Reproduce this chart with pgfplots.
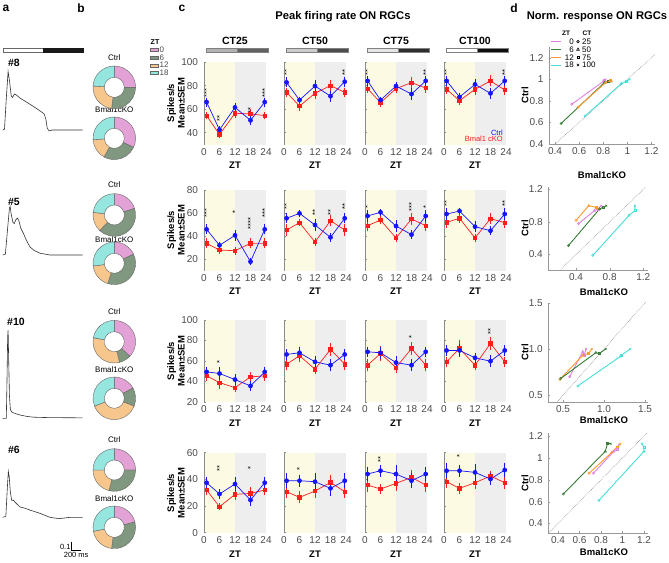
\documentclass[border=0pt]{standalone}
\usepackage{pgfplots}
\pgfplotsset{compat=1.18}
\usepackage{fontspec}
\setmainfont{Liberation Sans}
\usetikzlibrary{calc}

\definecolor{cblue}{RGB}{20,20,255}
\definecolor{cred}{RGB}{255,30,30}
\definecolor{yband}{RGB}{252,250,226}
\definecolor{gband}{RGB}{238,238,238}
\definecolor{dpink}{RGB}{222,130,222}
\definecolor{dgreen}{RGB}{55,125,55}
\definecolor{dorange}{RGB}{255,152,45}
\definecolor{dcyan}{RGB}{70,222,215}
\definecolor{zpink}{RGB}{226,162,214}
\definecolor{zgreen}{RGB}{128,152,128}
\definecolor{zorange}{RGB}{246,198,140}
\definecolor{zcyan}{RGB}{150,230,224}
\definecolor{tickgray}{RGB}{75,75,75}

\pgfplotsset{
  /pgf/number format/assume math mode=true,
  cax/.style={scale only axis, width=62pt, anchor=north west, axis on top,
    xmin=0, xmax=24, xtick={0,6,12,18,24},
    axis lines=left, axis line style={-}, y axis line style={draw=black!45},
    x axis line style={draw=none},
    tick align=inside, major tick length=2.2pt, minor tick length=1.4pt,
    xtick style={draw=none}, ytick style={draw=black!45, line width=0.5pt},
    minor y tick num=1,
    tick label style={font=\fontsize{10}{11}\selectfont, text=tickgray},
    yticklabel style={xshift=-2.5pt},
    clip=false},
  bst/.style={color=cblue, mark=*, mark size=2pt, line width=0.7pt,
    mark options={solid, fill=cblue},
    error bars/.cd, y dir=both, y explicit,
    error bar style={line width=0.8pt, color=cblue},
    error mark options={mark size=2.1pt, line width=0.8pt, color=cblue}},
  rst/.style={color=cred, mark=square*, mark size=1.7pt, line width=0.7pt,
    mark options={solid, fill=cred},
    error bars/.cd, y dir=both, y explicit,
    error bar style={line width=0.8pt, color=cred},
    error mark options={mark size=2.1pt, line width=0.8pt, color=cred}},
  dax/.style={scale only axis, anchor=south west,
    axis lines=left, axis line style={-, draw=black!40},
    tick align=inside, major tick length=2pt, tick style={draw=black!40},
    tick label style={font=\fontsize{10}{11}\selectfont, text=tickgray},
    yticklabel style={xshift=-2pt}, clip=true},
  tax/.style={scale only axis, hide axis, anchor=south west, width=80pt, height=99pt,
    xmin=0, xmax=1778, ymin=-0.1, ymax=1.0, clip=false}
}

\newcommand{\st}[3]{\node[rotate=90, font=\fontsize{7.5}{7.5}\selectfont, inner sep=0pt] at (axis cs:#1,#2) {#3};}

% #1 left, #2 top, #3 height, #4 ymin, #5 ymax, #6 options, #7 blue, #8 red, #9 extra
\newcommand{\cplot}[9]{%
\begin{axis}[cax, at={(#1pt,-#2pt)}, height=#3pt, ymin=#4, ymax=#5, #6]
\fill[yband] (axis cs:0,#4) rectangle (axis cs:12,#5);
\fill[gband] (axis cs:12,#4) rectangle (axis cs:24,#5);
\addplot[rst] coordinates {#8};
\addplot[bst] coordinates {#7};
#9
\end{axis}}

\newcommand{\dseries}[5]{%
 \addplot[#1, line width=0.9pt, mark=none] coordinates {#2 #3 #4 #5};
 \addplot[#1, only marks, mark=o, mark size=1.1pt, line width=0.6pt] coordinates {#2};
 \addplot[#1, only marks, mark=triangle, mark size=1.3pt, line width=0.6pt] coordinates {#3};
 \addplot[#1, only marks, mark=square, mark size=1pt, line width=0.6pt] coordinates {#4};
 \addplot[#1, only marks, mark=x, mark size=1.2pt, line width=0.6pt] coordinates {#5};}

\newcommand{\seg}[3]{\filldraw[fill=#3, draw=black!60, line width=0.4pt] (axis cs:0,0) ++(#1:21.3pt) arc[start angle=#1, end angle=#2, radius=21.3pt] -- ($(axis cs:0,0)+(#2:10pt)$) arc[start angle=#2, end angle=#1, radius=10pt] -- cycle;}

% cx cy pink green orange cyan
\newcommand{\donut}[6]{%
\pgfmathsetmacro{\angA}{90-360*#3}%
\pgfmathsetmacro{\angB}{\angA-360*#4}%
\pgfmathsetmacro{\angC}{\angB-360*#5}%
\begin{axis}[hide axis, scale only axis, width=42.6pt, height=42.6pt, xmin=-1, xmax=1, ymin=-1, ymax=1, anchor=center, at={(#1pt,-#2pt)}, clip=false]
\seg{90}{\angA}{zpink}
\seg{\angA}{\angB}{zgreen}
\seg{\angB}{\angC}{zorange}
\seg{\angC}{-270}{zcyan}
\end{axis}}

\begin{document}
\begin{tikzpicture}
\path[use as bounding box] (0,0) rectangle (669pt,-562pt);

% ---------- panel letters and titles
\node[font=\fontsize{12}{13}\selectfont\bfseries] at (6pt,-8pt) {a};
\node[font=\fontsize{12}{13}\selectfont\bfseries] at (81pt,-8pt) {b};
\node[font=\fontsize{12}{13}\selectfont\bfseries] at (182pt,-8pt) {c};
\node[font=\fontsize{12}{13}\selectfont\bfseries] at (514pt,-8pt) {d};
\node[font=\fontsize{11.2}{13}\selectfont\bfseries] at (343pt,-17pt) {Peak firing rate ON RGCs};
\node[font=\fontsize{11.2}{13}\selectfont\bfseries] at (597pt,-17pt) {Norm. response ON RGCs};

% ---------- panel a
\filldraw[fill=white, draw=black!60, line width=0.4pt] (2.7pt,-48.3pt) rectangle (42.7pt,-52.3pt);
\filldraw[fill=black!90, draw=black!90, line width=0.4pt] (42.7pt,-48.3pt) rectangle (82.7pt,-52.3pt);
\node[font=\fontsize{10.5}{12}\selectfont\bfseries, anchor=center] at (14pt,-63pt) {\#8};
\node[font=\fontsize{10.5}{12}\selectfont\bfseries] at (14pt,-201.7pt) {\#5};
\node[font=\fontsize{10.5}{12}\selectfont\bfseries] at (16pt,-321.7pt) {\#10};
\node[font=\fontsize{10.5}{12}\selectfont\bfseries] at (14pt,-450pt) {\#6};

\begin{axis}[tax, at={(2.7pt,-139pt)}]
\addplot[black!80, line width=0.6pt] coordinates {(0,0)(40,0.01)(80,0.35)(120,0.65)(150,0.55)(190,0.38)(220,0.36)(260,0.40)(300,0.39)(400,0.35)(530,0.31)(750,0.24)(920,0.18)(960,0.12)(990,0.02)(1030,-0.01)(1100,0)(1778,0)};
\end{axis}
\begin{axis}[tax, at={(2.7pt,-264pt)}]
\addplot[black!80, line width=0.6pt] coordinates {(0,0)(60,0.01)(110,0.3)(150,0.52)(165,0.54)(190,0.45)(230,0.36)(258,0.35)(290,0.39)(330,0.41)(360,0.38)(400,0.30)(460,0.24)(530,0.16)(606,0.09)(700,0.05)(828,0.02)(1050,0)(1778,0)};
\end{axis}
\begin{axis}[tax, at={(2.7pt,-427.3pt)}]
\addplot[black!80, line width=0.6pt] coordinates {(0,0)(80,0)(95,0.4)(110,0.9)(120,0.98)(135,0.6)(150,0.25)(170,0.1)(200,0.07)(240,0.06)(300,0.05)(400,0.035)(550,0.02)(700,0.012)(1000,0.008)(1778,0.005)};
\end{axis}
\begin{axis}[tax, at={(2.7pt,-526.3pt)}]
\addplot[black!80, line width=0.6pt] coordinates {(0,0)(70,0.01)(100,0.3)(125,0.51)(145,0.45)(170,0.28)(199,0.19)(236,0.19)(290,0.16)(384,0.115)(500,0.1)(606,0.08)(828,0.044)(1050,0.0)(1250,-0.015)(1500,0)(1778,0)};
\addplot[black, line width=0.6pt] coordinates {(1533,-0.271)(1533,-0.371)(1733,-0.371)};
\node[anchor=east, font=\fontsize{7.5}{8}\selectfont, inner sep=1pt] at (axis cs:1533,-0.33) {0.1};
\node[anchor=north, font=\fontsize{7.5}{8}\selectfont, inner sep=1pt] at (axis cs:1633,-0.371) {200 ms};
\end{axis}

% ---------- panel b
\foreach \yy in {57.3,184.3,311.7,440} {\node[font=\fontsize{8}{9}\selectfont] at (114.3pt,-\yy pt) {Ctrl};}
\foreach \yy in {110,239.3,369.3,498.3} {\node[font=\fontsize{8}{9}\selectfont] at (114.3pt,-\yy pt) {Bmal1cKO};}
\donut{114.3}{87.3}{0.25}{0.27}{0.24}{0.24}
\donut{114.3}{138.3}{0.32}{0.26}{0.16}{0.26}
\donut{114.3}{215}{0.20}{0.42}{0.15}{0.23}
\donut{114.3}{263.3}{0.18}{0.37}{0.18}{0.27}
\donut{114.3}{341.7}{0.37}{0.09}{0.32}{0.22}
\donut{114.3}{398.3}{0.17}{0.14}{0.38}{0.31}
\donut{114.3}{470}{0.25}{0.29}{0.21}{0.25}
\donut{114.3}{527.3}{0.21}{0.31}{0.20}{0.28}

% ---------- panel c : ZT legend
\node[font=\fontsize{7}{8}\selectfont\bfseries] at (155pt,-42pt) {ZT};
\foreach \yy/\cc/\tt in {50/zpink/0, 57.6/zgreen/6, 65.2/zorange/12, 72.8/zcyan/18} {
  \filldraw[fill=\cc, draw=black!60, line width=0.3pt] (150.5pt,-\yy pt+1.5pt) rectangle (158pt,-\yy pt-1.5pt);
  \node[anchor=west, font=\fontsize{8}{9}\selectfont, text=black!70, inner sep=0pt] at (159.5pt,-\yy pt) {\tt};
}

% CT labels and bars
\foreach \xx/\lab/\la/\lb in {204/CT25/black!30/black!62, 284/CT50/black!20/black!70, 365/CT75/black!10/black!82, 444/CT100/white/black!95} {
  \node[font=\fontsize{10.5}{12}\selectfont\bfseries] at (\xx pt+31pt,-41pt) {\lab};
  \filldraw[fill=\la, draw=black!50, line width=0.3pt] (\xx pt+2pt,-48.3pt) rectangle (\xx pt+33pt,-52.3pt);
  \filldraw[fill=\lb, draw=black!50, line width=0.3pt] (\xx pt+33pt,-48.3pt) rectangle (\xx pt+64pt,-52.3pt);
}

% y labels and x labels
\foreach \yy in {103,230,361,493} {\node[rotate=90, align=center, font=\fontsize{9.5}{10.5}\selectfont\bfseries] at (176pt,-\yy pt) {Spikes/s\\Mean±SEM};}
\foreach \yy in {165.5,291.5,423,554} {\foreach \xx in {235,315,396,475} {\node[font=\fontsize{9.5}{11}\selectfont\bfseries] at (\xx pt,-\yy pt) {ZT};}}

% ---------- row 1
\cplot{204}{62}{82.5}{30}{100}{ytick={40,60,80,100}}
{(1,66)+-(0,2) (6,42.5)+-(0,1.5) (12,61.5)+-(0,2) (18,50.5)+-(0,2) (23.5,66)+-(0,2)}
{(1,54.5)+-(0,1) (6,38.5)+-(0,1.5) (12,56.5)+-(0,2) (18,56)+-(0,2) (23.5,54.5)+-(0,1)}
{\st{1}{73.4}{***}\st{6}{52}{**}\st{18}{59}{**}\st{23.5}{73.4}{***}}
\cplot{284}{62}{82.5}{30}{100}{ytick={40,60,80,100}, yticklabels={}}
{(1,82.7)+-(0,2.5) (6,67.7)+-(0,1) (12,79.6)+-(0,3) (18,71)+-(0,3) (23.5,83.3)+-(0,2.5)}
{(1,74.2)+-(0,2) (6,62.6)+-(0,2) (12,73.5)+-(0,3) (18,80)+-(0,3) (23.5,74.2)+-(0,2)}
{\st{1}{91}{**}\st{23.5}{91}{**}}
\cplot{365}{62}{82.5}{30}{100}{ytick={40,60,80,100}, yticklabels={}}
{(1,84)+-(0,2.5) (6,67.7)+-(0,1) (12,79.6)+-(0,2) (18,72.8)+-(0,3) (23.5,84)+-(0,2.5)}
{(1,77.4)+-(0,2) (6,65.5)+-(0,2) (12,77.4)+-(0,2) (18,82.5)+-(0,3) (23.5,77.9)+-(0,2)}
{\st{1}{91}{**}\st{23.5}{91}{**}}
\cplot{444}{62}{82.5}{30}{100}{ytick={40,60,80,100}, yticklabels={}}
{(1,84)+-(0,2.5) (6,70.3)+-(0,2) (12,81)+-(0,3) (18,73.4)+-(0,3) (23.5,84)+-(0,2.5)}
{(1,76.8)+-(0,2) (6,67.2)+-(0,2) (12,76.8)+-(0,3) (18,84)+-(0,3) (23.5,76.2)+-(0,2)}
{\st{1}{91}{**}\st{23.5}{91}{**}
 \node[anchor=east, font=\fontsize{7.5}{8}\selectfont, text=cblue, inner sep=0pt] at (rel axis cs:0.95,0.14) {Ctrl};
 \node[anchor=east, font=\fontsize{7.5}{8}\selectfont, text=cred, inner sep=0pt] at (rel axis cs:0.95,0.065) {Bmal1 cKO};}

% ---------- row 2
\cplot{204}{190}{80.5}{10}{80}{ytick={20,40,60,80}}
{(1,45.8)+-(0,2.5) (6,31.9)+-(0,1) (12,40.6)+-(0,3) (18,17.7)+-(0,1.5) (23.5,45.8)+-(0,2.5)}
{(1,33.6)+-(0,2.5) (6,27.8)+-(0,1.5) (12,27.2)+-(0,1.5) (18,33.6)+-(0,2.5) (23.5,33.6)+-(0,2.5)}
{\st{1}{60}{***}\st{12}{61}{*}\st{18}{51}{****}\st{23.5}{60}{***}}
\cplot{284}{190}{80.5}{10}{80}{ytick={20,40,60,80}, yticklabels={}}
{(1,55.4)+-(0,2.5) (6,59.7)+-(0,1) (12,49.6)+-(0,3.5) (18,38.8)+-(0,2) (23.5,55.4)+-(0,2.5)}
{(1,45.2)+-(0,3) (6,51.6)+-(0,1.5) (12,34.8)+-(0,1.5) (18,53.3)+-(0,3) (23.5,45.2)+-(0,3)}
{\st{1}{65.5}{**}\st{12}{60.5}{**}\st{18}{60.5}{**}\st{23.5}{66}{**}}
\cplot{365}{190}{80.5}{10}{80}{ytick={20,40,60,80}, yticklabels={}}
{(1,57.4)+-(0,3) (6,60.6)+-(0,1) (12,48.7)+-(0,3) (18,41.2)+-(0,2) (23.5,57.4)+-(0,3)}
{(1,49)+-(0,2.5) (6,53.9)+-(0,2) (12,38.3)+-(0,1.5) (18,54.8)+-(0,3) (23.5,49)+-(0,2.5)}
{\st{1}{65.5}{*}\st{18}{65}{***}\st{23.5}{65.5}{*}}
\cplot{444}{190}{80.5}{10}{80}{ytick={20,40,60,80}, yticklabels={}}
{(1,59.1)+-(0,3) (6,61.7)+-(0,1) (12,48.1)+-(0,3) (18,44.6)+-(0,2) (23.5,59.1)+-(0,3)}
{(1,51.9)+-(0,3) (6,55.4)+-(0,2) (12,38.3)+-(0,2) (18,55.1)+-(0,3) (23.5,51.6)+-(0,3)}
{\st{1}{68}{**}\st{23.5}{68}{**}}

% ---------- row 3
\cplot{204}{320}{82}{20}{100}{ytick={20,40,60,80,100}}
{(1,49.4)+-(0,3) (6,47.8)+-(0,4) (12,41.9)+-(0,3) (18,35.7)+-(0,3) (23.5,49.4)+-(0,3)}
{(1,45.5)+-(0,3) (6,38.9)+-(0,4) (12,34)+-(0,2) (18,44.5)+-(0,3) (23.5,45.5)+-(0,3)}
{\st{6}{58.5}{*}}
\cplot{284}{320}{82}{20}{100}{ytick={20,40,60,80,100}, yticklabels={}}
{(1,66.4)+-(0,3) (6,68)+-(0,4) (12,59.2)+-(0,4) (18,55.9)+-(0,4) (23.5,66.4)+-(0,3)}
{(1,56.9)+-(0,4) (6,65.1)+-(0,4) (12,52)+-(0,3) (18,71.3)+-(0,4) (23.5,56.9)+-(0,4)}
{}
\cplot{365}{320}{82}{20}{100}{ytick={20,40,60,80,100}, yticklabels={}}
{(1,69)+-(0,3) (6,68)+-(0,4) (12,58.5)+-(0,4) (18,55.9)+-(0,4) (23.5,69)+-(0,3)}
{(1,55.9)+-(0,4) (6,67.3)+-(0,5) (12,53.6)+-(0,3) (18,72.2)+-(0,4) (23.5,55.9)+-(0,4)}
{\st{18}{83}{*}}
\cplot{444}{320}{82}{20}{100}{ytick={20,40,60,80,100}, yticklabels={}}
{(1,70.3)+-(0,3) (6,70.3)+-(0,4) (12,63.1)+-(0,3) (18,59.8)+-(0,4) (23.5,70.3)+-(0,3)}
{(1,59.2)+-(0,3) (6,72.2)+-(0,6) (12,55.9)+-(0,3) (18,77.1)+-(0,4) (23.5,59.3)+-(0,3)}
{\st{18}{88.6}{**}}

% ---------- row 4
\cplot{204}{452.7}{80}{0}{60}{ytick={0,20,40,60}}
{(1,37.5)+-(0,3) (6,29)+-(0,2) (12,36.5)+-(0,4) (18,24.5)+-(0,3) (23.5,37.5)+-(0,3)}
{(1,32)+-(0,2) (6,19.5)+-(0,1) (12,28.75)+-(0,2.5) (18,29.5)+-(0,3) (23.5,32)+-(0,2)}
{\st{6}{48.25}{**}\st{18}{48.25}{*}}
\cplot{284}{452.7}{80}{0}{60}{ytick={0,20,40,60}, yticklabels={}}
{(1,39)+-(0,4) (6,39)+-(0,3) (12,38.25)+-(0,5) (18,33.25)+-(0,4.5) (23.5,39)+-(0,4)}
{(1,30.75)+-(0,3.5) (6,26.5)+-(0,3) (12,31.25)+-(0,3.5) (18,37.75)+-(0,4) (23.5,30.75)+-(0,3.5)}
{\st{6}{47.5}{*}}
\cplot{365}{452.7}{80}{0}{60}{ytick={0,20,40,60}, yticklabels={}}
{(1,44)+-(0,4) (6,46.5)+-(0,3) (12,44)+-(0,5) (18,39)+-(0,4) (23.5,44)+-(0,4)}
{(1,35.75)+-(0,4) (6,32.75)+-(0,2.5) (12,37)+-(0,4) (18,41.5)+-(0,4) (23.5,35.75)+-(0,3.5)}
{\st{6}{55}{**}}
\cplot{444}{452.7}{80}{0}{60}{ytick={0,20,40,60}, yticklabels={}}
{(1,46.5)+-(0,4) (6,46.5)+-(0,3) (12,45.25)+-(0,5) (18,40.25)+-(0,3) (23.5,47)+-(0,4)}
{(1,38.25)+-(0,3.5) (6,33.25)+-(0,2.5) (12,37.5)+-(0,3) (18,42.5)+-(0,2) (23.5,37.5)+-(0,3)}
{\st{6}{57.5}{*}}

% ---------- panel d legend
\node[font=\fontsize{6.5}{7}\selectfont\bfseries] at (566pt,-33pt) {ZT};
\node[font=\fontsize{6.5}{7}\selectfont\bfseries] at (587pt,-33pt) {CT};
\foreach \yy/\cc/\tt/\ct in {41.7/dpink/0/25, 49.3/dgreen/6/50, 57.3/dorange/12/75, 65/dcyan/18/100} {
  \draw[\cc, line width=1pt] (551pt,-\yy pt) -- (561pt,-\yy pt);
  \node[anchor=east, font=\fontsize{8}{9}\selectfont, inner sep=0pt] at (574pt,-\yy pt) {\tt};
  \node[anchor=west, font=\fontsize{8}{9}\selectfont, inner sep=0pt] at (582pt,-\yy pt) {\ct};
}
\draw[line width=0.6pt] (578pt,-41.7pt) circle (1.3pt);
\draw[line width=0.6pt] (576.6pt,-50.4pt) -- (579.4pt,-50.4pt) -- (578pt,-48pt) -- cycle;
\draw[line width=0.6pt] (576.8pt,-56.1pt) rectangle (579.2pt,-58.5pt);
\draw[line width=0.6pt] (576.8pt,-63.8pt) -- (579.2pt,-66.2pt) (576.8pt,-66.2pt) -- (579.2pt,-63.8pt);

% labels panel d
\foreach \yy in {95.5,228.5,352,483} {\node[rotate=90, font=\fontsize{9.5}{11}\selectfont\bfseries] at (525pt,-\yy pt) {Ctrl};}
\node[font=\fontsize{9.5}{11}\selectfont\bfseries] at (602pt,-175pt) {Bmal1cKO};
\node[font=\fontsize{9.5}{11}\selectfont\bfseries] at (604pt,-291.7pt) {Bmal1cKO};
\node[font=\fontsize{9.5}{11}\selectfont\bfseries] at (604pt,-420pt) {Bmal1cKO};
\node[font=\fontsize{9.5}{11}\selectfont\bfseries] at (604pt,-551.7pt) {Bmal1cKO};

\begin{axis}[dax, at={(549pt,-144pt)}, width=106pt, height=97pt, xmin=0.35, xmax=1.23, ymin=0.4, ymax=1.3,
  xtick={0.4,0.6,0.8,1,1.2}, ytick={0.4,0.6,0.8,1,1.2}]
\addplot[black!45, densely dotted, line width=0.6pt] coordinates {(0,0)(2,2)};
\dseries{dpink}{(0.54,0.77)}{(0.80,0.98)}{(0.81,0.99)}{(0.82,1.0)}
\dseries{dgreen}{(0.45,0.59)}{(0.81,0.97)}{(0.84,0.98)}{(0.86,0.98)}
\dseries{dorange}{(0.59,0.74)}{(0.82,0.97)}{(0.86,0.99)}{(0.87,0.98)}
\dseries{dcyan}{(0.65,0.66)}{(0.95,0.96)}{(0.99,0.98)}{(1.02,1.0)}
\end{axis}

\begin{axis}[dax, at={(548.3pt,-270pt)}, width=100pt, height=83pt, xmin=0.07, xmax=1.26, ymin=0.21, ymax=1.23,
  xtick={0.4,0.8,1.2}, ytick={0.4,0.8,1.2}]
\addplot[black!45, densely dotted, line width=0.6pt] coordinates {(0,0)(2,2)};
\dseries{dpink}{(0.43,0.78)}{(0.62,0.94)}{(0.66,0.96)}{(0.70,1.0)}
\dseries{dorange}{(0.40,0.82)}{(0.55,1.0)}{(0.64,0.98)}{(0.66,0.96)}
\dseries{dgreen}{(0.31,0.51)}{(0.68,0.96)}{(0.72,0.98)}{(0.76,1.0)}
\dseries{dcyan}{(0.60,0.39)}{(1.03,0.88)}{(1.10,0.94)}{(1.10,1.0)}
\end{axis}

\begin{axis}[dax, at={(548.3pt,-401.7pt)}, width=100pt, height=99pt, xmin=0.32, xmax=1.54, ymin=0.43, ymax=1.5,
  xtick={0.5,1,1.5}, ytick={0.5,1,1.5}, xticklabels={0.5,1.0,1.5}, yticklabels={0.5,1.0,1.5}]
\addplot[black!45, densely dotted, line width=0.6pt] coordinates {(0,0)(2,2)};
\dseries{dpink}{(0.58,0.70)}{(0.74,0.97)}{(0.76,0.93)}{(0.78,1.0)}
\dseries{dorange}{(0.46,0.67)}{(0.74,0.93)}{(0.81,0.95)}{(0.85,1.0)}
\dseries{dgreen}{(0.47,0.68)}{(0.90,0.96)}{(0.94,0.95)}{(1.02,1.0)}
\dseries{dcyan}{(0.68,0.60)}{(1.20,0.92)}{(1.21,0.93)}{(1.32,1.0)}
\end{axis}

\begin{axis}[dax, at={(548.3pt,-533.3pt)}, width=100pt, height=100pt, xmin=0.31, xmax=1.24, ymin=0.31, ymax=1.225,
  xtick={0.4,0.6,0.8,1,1.2}, ytick={0.4,0.6,0.8,1,1.2}]
\addplot[black!45, densely dotted, line width=0.6pt] coordinates {(0,0)(2,2)};
\dseries{dgreen}{(0.45,0.67)}{(0.84,1.06)}{(0.86,1.13)}{(0.89,1.13)}
\dseries{dorange}{(0.69,0.86)}{(0.90,1.05)}{(0.95,1.10)}{(0.98,1.13)}
\dseries{dpink}{(0.73,0.86)}{(0.92,1.06)}{(0.95,1.08)}{(0.97,1.12)}
\dseries{dcyan}{(0.78,0.61)}{(1.20,1.06)}{(1.20,1.10)}{(1.18,1.13)}
\end{axis}

\end{tikzpicture}
\end{document}
